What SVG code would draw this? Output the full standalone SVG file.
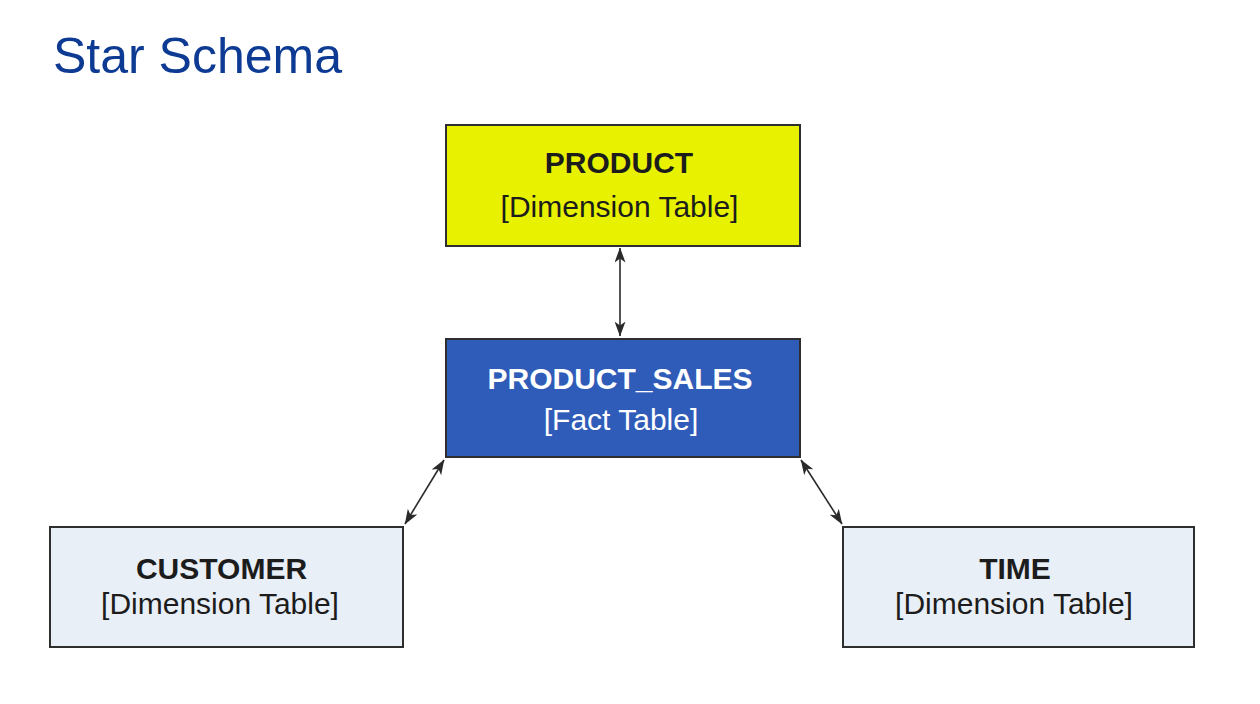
<svg xmlns="http://www.w3.org/2000/svg" width="1260" height="704" viewBox="0 0 1260 704">
<style>
.box{stroke:#2e2e2e;stroke-width:2}
.dim{fill:#e9eff6}
.t{font-family:"Liberation Sans",Arial,sans-serif;font-size:30px;text-anchor:middle}
.b{font-weight:bold}
.dark{fill:#1c1c1c}
.light{fill:#ffffff}
.conn{stroke:#2a2a2a;stroke-width:1.6;fill:none;marker-start:url(#ah);marker-end:url(#ah)}
</style>
<defs>
<marker id="ah" viewBox="0 0 15 11" refX="14.5" refY="5.5" markerWidth="15" markerHeight="11" markerUnits="userSpaceOnUse" orient="auto-start-reverse">
<path d="M0,0 L15,5.5 L0,11 L4,5.5 Z" fill="#2a2a2a"/>
</marker>
</defs>
<rect width="1260" height="704" fill="#ffffff"/>
<text x="53" y="73" font-family="'Liberation Sans',Arial,sans-serif" font-size="50" fill="#0d3b94">Star Schema</text>
<g id="connectors">
<line class="conn" x1="620" y1="248" x2="620" y2="336"/>
<line class="conn" x1="444" y1="460" x2="405" y2="524"/>
<line class="conn" x1="801" y1="460" x2="842" y2="524"/>
</g>
<g id="product">
<rect class="box" x="446" y="125" width="354" height="121" fill="#e8f200"/>
<text class="t b dark" x="619" y="173">PRODUCT</text>
<text class="t dark" x="619.5" y="217">[Dimension Table]</text>
</g>
<g id="product_sales">
<rect class="box" x="446" y="339" width="354" height="118" fill="#2f5cb8"/>
<text class="t b light" x="620" y="389">PRODUCT_SALES</text>
<text class="t light" x="621" y="430">[Fact Table]</text>
</g>
<g id="customer">
<rect class="box dim" x="50" y="527" width="353" height="120"/>
<text class="t b dark" x="221.5" y="579">CUSTOMER</text>
<text class="t dark" x="220" y="614">[Dimension Table]</text>
</g>
<g id="time">
<rect class="box dim" x="843" y="527" width="351" height="120"/>
<text class="t b dark" x="1015" y="579">TIME</text>
<text class="t dark" x="1014" y="614">[Dimension Table]</text>
</g>
</svg>
